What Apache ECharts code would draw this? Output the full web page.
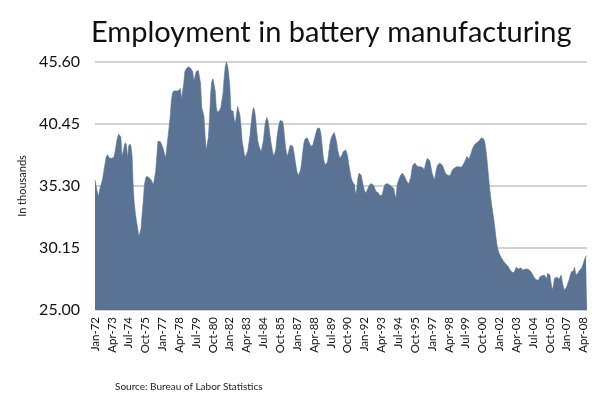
<!DOCTYPE html>
<html><head><meta charset="utf-8">
<script src="https://cdn.jsdelivr.net/npm/echarts@6/dist/echarts.min.js"></script>
<style>html,body{margin:0;padding:0;background:#fff}#c{width:600px;height:396px}</style>
</head><body><div id="c"></div>
<script>
// Month label parts (categories built as "Mon-YY", Jan-72 .. Jul-08)
const monthNames = ['Jan','Feb','Mar','Apr','May','Jun','Jul','Aug','Sep','Oct','Nov','Dec'];
const firstYear = 1972;
const pointCount = 439;

// Employment in battery manufacturing, thousands
const values1972_1981 = [
35.8,35.3,34.8,34.4,34.9,35.3,35.6,36.0,36.6,37.2,
37.7,37.9,37.8,37.6,37.7,37.6,37.5,37.7,38.2,38.8,
39.3,39.6,39.7,39.4,37.8,38.1,38.6,38.9,38.7,37.6,
38.6,38.8,38.6,37.8,35.2,33.8,33.0,32.3,31.8,31.1,
31.4,31.8,33.0,34.1,35.4,35.9,36.1,36.1,36.0,35.9,
35.8,35.6,35.4,35.5,36.5,37.7,39.0,39.1,39.0,38.8,
38.6,38.3,37.9,37.7,37.8,39.4,40.2,41.1,42.4,43.0,
43.2,43.3,43.2,43.1,43.2,43.3,43.4,42.5,43.2,43.8,
44.8,45.0,45.1,45.2,45.1,45.1,45.0,44.8,44.0,44.4,
44.8,44.9,44.9,44.8,43.8,41.8,41.7,41.1,39.5,38.3,
38.8,39.4,41.0,43.0,44.0,44.2,44.2,43.2,41.8,41.4,
41.3,41.6,41.8,41.9,43.0,44.3,45.2,45.6,45.3,44.6
];
const values1982_1991 = [
43.6,41.6,41.6,41.5,40.8,40.5,41.3,41.9,41.9,41.2,
40.2,39.0,38.5,37.9,37.7,38.0,38.2,38.2,39.5,40.5,
41.3,41.8,41.6,40.9,39.8,39.0,38.6,38.35,38.15,38.15,
39.1,40.1,40.7,41.0,40.7,40.1,39.35,38.7,38.2,37.8,
38.0,38.4,39.3,40.0,40.5,40.75,40.85,40.65,40.1,39.1,
38.3,37.8,38.0,38.4,38.7,38.7,38.6,38.15,37.5,36.9,
36.4,36.2,36.15,36.6,37.3,38.15,38.85,39.2,39.3,39.3,
39.05,38.85,38.6,38.6,38.7,39.1,39.45,39.8,40.1,40.2,
40.1,39.7,38.85,37.9,37.3,37.05,37.1,37.3,38.0,38.7,
39.2,39.45,39.6,39.75,39.6,39.0,38.3,37.9,37.6,37.5,
37.9,38.15,38.3,38.3,38.1,37.7,37.05,36.5,36.0,35.7,
35.6,35.4,34.55,35.0,35.95,36.35,36.4,36.2,35.7,35.25
];
const values1992_2001 = [
34.9,34.7,34.8,35.1,35.35,35.5,35.5,35.45,35.35,35.15,
34.85,34.85,34.75,34.55,34.4,34.5,34.7,35.1,35.4,35.5,
35.5,35.5,35.4,35.3,35.25,35.25,35.1,34.55,34.3,35.4,
35.7,35.95,36.2,36.3,36.35,36.2,36.0,35.8,35.7,35.45,
35.3,35.95,36.6,37.05,37.2,37.2,37.0,36.9,36.9,36.9,
36.9,36.9,36.8,36.6,37.0,37.4,37.6,37.6,37.4,36.9,
36.4,36.1,35.8,36.2,36.7,37.05,37.2,37.2,37.15,37.05,
36.85,36.6,36.35,36.3,36.2,36.1,36.15,36.35,36.6,36.7,
36.8,36.85,36.9,36.85,36.9,36.9,36.85,36.95,37.1,37.25,
37.5,37.75,37.6,37.55,37.8,38.05,38.4,38.55,38.75,38.85,
38.9,39.0,39.05,39.2,39.3,39.35,39.2,38.95,38.3,37.45,
36.45,35.4,34.55,33.8,33.15,32.55,31.8,31.0,30.3,29.9
];
const values2002_2008 = [
29.65,29.5,29.3,29.15,29.0,28.9,28.8,28.75,28.6,28.4,
28.25,28.15,28.05,28.1,28.25,28.55,28.45,28.4,28.45,28.5,
28.45,28.3,28.3,28.4,28.45,28.4,28.35,28.3,28.2,28.05,
27.9,27.7,27.6,27.5,27.4,27.5,27.75,27.9,27.85,27.75,
27.9,27.75,27.6,28.05,28.1,27.9,27.25,26.7,26.95,27.6,
27.75,27.75,27.7,27.55,27.55,27.9,27.35,26.9,26.65,26.8,
26.95,27.1,27.5,27.85,28.15,28.1,28.25,28.55,27.9,27.9,
28.05,28.25,28.4,28.45,28.65,28.95,29.25,29.45,29.5
];

// Axis ticks
const yMin = 25.00, yMax = 45.60, yStep = 5.15;
const labelEvery = 15; // months between x labels

const employment = values1972_1981.concat(values1982_1991, values1992_2001, values2002_2008);
const categories = [];
for (let i = 0; i < pointCount; i++) {
  const y = firstYear + Math.floor(i / 12);
  categories.push(monthNames[i % 12] + '-' + String(y % 100).padStart(2, '0'));
}

const FONT = 'Lato';
const chart = echarts.init(document.getElementById('c'), null, {renderer: 'canvas'});
chart.setOption({
  animation: false,
  backgroundColor: '#ffffff',
  title: [
    {text: 'Employment in battery manufacturing', left: 86, top: 13,
     textStyle: {fontFamily: FONT, fontSize: 29, fontWeight: 'normal', color: '#111'}},
    {text: 'Source: Bureau of Labor Statistics', left: 110, top: 377,
     textStyle: {fontFamily: FONT, fontSize: 10, fontWeight: 'normal', color: '#222'}}
  ],
  grid: {left: 95, right: 13, top: 62, bottom: 86, containLabel: false},
  xAxis: {
    type: 'category', data: categories, boundaryGap: false,
    axisLine: {show: false}, axisTick: {show: false},
    splitLine: {show: false},
    axisLabel: {rotate: 90, interval: labelEvery - 1, fontFamily: FONT, fontSize: 11.5, color: '#111', margin: 7}
  },
  yAxis: {
    type: 'value', min: yMin, max: yMax, interval: yStep,
    name: 'In thousands', nameLocation: 'middle', nameGap: 66, nameRotate: 90,
    nameTextStyle: {fontFamily: FONT, fontSize: 11, color: '#222'},
    axisLine: {show: false}, axisTick: {show: false},
    axisLabel: {formatter: v => v.toFixed(2), fontFamily: FONT, fontSize: 16, color: '#111', margin: 15},
    splitLine: {show: true, lineStyle: {color: '#c4c4c4', width: 1.5}}
  },
  series: [{
    type: 'line', data: employment, symbol: 'none', smooth: false,
    lineStyle: {width: 0.6, color: '#5a7394'},
    areaStyle: {color: '#5a7394', opacity: 1}
  }]
});
</script>
</body></html>
